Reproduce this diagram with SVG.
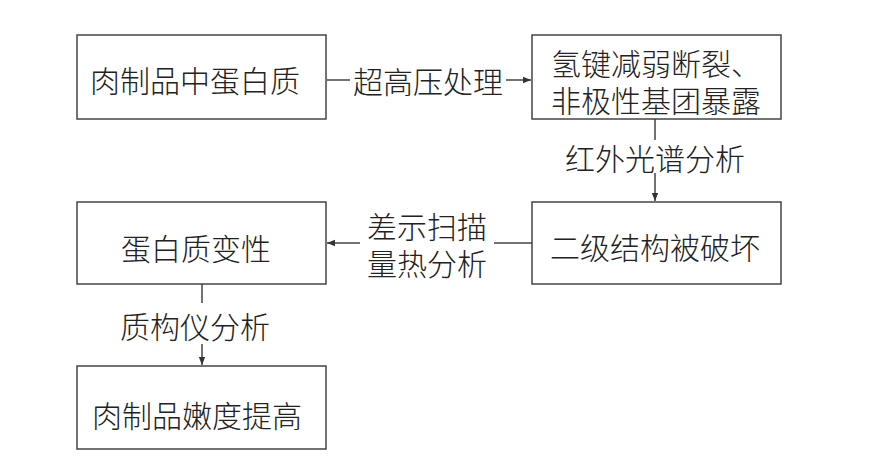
<svg xmlns="http://www.w3.org/2000/svg" width="884" height="474" viewBox="0 0 884 474">
<defs>
<style>
.box{fill:#fff;stroke:#444;stroke-width:1.5}
.t{font-family:"Noto Sans CJK SC","Noto Sans CJK JP",sans-serif;font-size:30px;fill:#222;text-anchor:middle;dominant-baseline:central;font-weight:300}
.c{fill:none;stroke:#444;stroke-width:1.5}
</style>
<marker id="ah" viewBox="0 0 10 10" refX="10" refY="5" markerWidth="8" markerHeight="8" markerUnits="userSpaceOnUse" orient="auto">
<path d="M0,1 L10,5 L0,9 Z" fill="#333"/>
</marker>
</defs>
<rect width="884" height="474" fill="#fff"/>
<g id="connectors">
<line class="c" x1="327" y1="80" x2="350" y2="80"/>
<line class="c" x1="506" y1="80" x2="531" y2="80" marker-end="url(#ah)"/>
<text class="t" x="428" y="80">超高压处理</text>
<line class="c" x1="655" y1="119" x2="655" y2="140"/>
<line class="c" x1="655" y1="173" x2="655" y2="201" marker-end="url(#ah)"/>
<text class="t" x="655" y="157">红外光谱分析</text>
<line class="c" x1="532" y1="243" x2="494" y2="243"/>
<line class="c" x1="360" y1="243" x2="327" y2="243" marker-end="url(#ah)"/>
<text class="t"><tspan x="427" y="225">差示扫描</tspan><tspan x="427" y="262">量热分析</tspan></text>
<line class="c" x1="202" y1="284" x2="202" y2="303"/>
<line class="c" x1="202" y1="344" x2="202" y2="365" marker-end="url(#ah)"/>
<text class="t" x="195" y="325">质构仪分析</text>
</g>
<g id="n1"><rect class="box" x="77" y="35" width="249" height="84"/><text class="t" x="195" y="79">肉制品中蛋白质</text></g>
<g id="n2"><rect class="box" x="532" y="35" width="249" height="84"/><text class="t"><tspan x="656" y="62">氢键减弱断裂、</tspan><tspan x="656" y="99">非极性基团暴露</tspan></text></g>
<g id="n3"><rect class="box" x="532" y="202" width="249" height="82"/><text class="t" x="655" y="246">二级结构被破坏</text></g>
<g id="n4"><rect class="box" x="77" y="202" width="249" height="82"/><text class="t" x="196" y="247">蛋白质变性</text></g>
<g id="n5"><rect class="box" x="77" y="366" width="249" height="83"/><text class="t" x="197" y="414">肉制品嫩度提高</text></g>
</svg>
